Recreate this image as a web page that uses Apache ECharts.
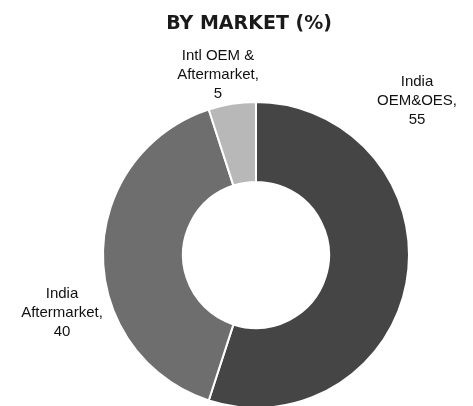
<!DOCTYPE html>
<html>
<head>
<meta charset="utf-8">
<script src="https://cdn.jsdelivr.net/npm/echarts@6/dist/echarts.min.js"></script>
<style>
  html, body { margin: 0; padding: 0; background: #fff; }
  #main { width: 473px; height: 406px; }
</style>
</head>
<body>
<div id="main"></div>
<script>
// segments clockwise from 12 o'clock
const categories = ['India\nOEM&OES', 'India\nAftermarket', 'Intl OEM &\nAftermarket'];
const values = [55, 40, 5];
const colors = ['#454545', '#6e6e6e', '#b8b8b8'];

// where each label block sits (centre of text block)
const labelSpots = [[417, 101], [62, 313], [218, 75]];

const chart = echarts.init(document.getElementById('main'));

const option = {
  backgroundColor: '#fff',
  title: {
    text: 'BY MARKET (%)',
    left: 244,
    top: 10,
    textAlign: 'center',
    textStyle: {
      fontFamily: 'DejaVu Sans',
      fontWeight: 'bold',
      fontSize: 19,
      color: '#1a1a1a'
    }
  },
  series: [
    {
      type: 'pie',
      center: [256, 255],
      radius: [73, 153],
      startAngle: 90,
      clockwise: true,
      silent: true,
      avoidLabelOverlap: false,
      itemStyle: {
        borderColor: '#fff',
        borderWidth: 2
      },
      label: {
        show: true,
        position: 'outside',
        formatter: p => p.name + ',\n' + p.value,
        fontFamily: '"Liberation Sans Narrow", "Liberation Sans", Arial',
        fontSize: 15,
        lineHeight: 19,
        color: '#111',
        align: 'center',
        overflow: 'none'
      },
      labelLine: { show: false },
      labelLayout: p => ({
        x: labelSpots[p.dataIndex][0],
        y: labelSpots[p.dataIndex][1],
        align: 'center',
        verticalAlign: 'middle',
        hideOverlap: false
      }),
      data: categories.map((c, i) => ({
        name: c,
        value: values[i],
        itemStyle: { color: colors[i] }
      }))
    }
  ]
};

chart.setOption(option);
</script>
</body>
</html>
